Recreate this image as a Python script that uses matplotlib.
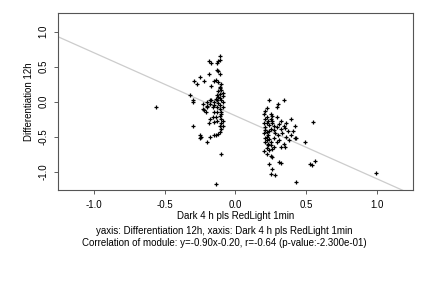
import numpy as np
import matplotlib
matplotlib.use('Agg')
import matplotlib.pyplot as plt

plt.rcParams['font.family'] = ['Liberation Sans', 'DejaVu Sans']

# cluster around x = -0.1 .. -0.3
x_left = [-0.56, -0.32, -0.30, -0.30, -0.29, -0.27, -0.25, -0.22, -0.19, -0.19,
          -0.17, -0.15, -0.17, -0.30, -0.25, -0.24, -0.25, -0.20, -0.18, -0.15,
          -0.19, -0.18, -0.16, -0.23, -0.21, -0.20, -0.18, -0.20, -0.14, -0.11,
          -0.11, -0.12, -0.13, -0.13, -0.12, -0.11, -0.14, -0.12, -0.11, -0.10,
          -0.11, -0.12, -0.13, -0.14, -0.15, -0.17, -0.18, -0.20, -0.22, -0.23,
          -0.13, -0.11, -0.10, -0.09, -0.12, -0.11, -0.13, -0.09, -0.11, -0.10,
          -0.13, -0.15, -0.16, -0.10, -0.10, -0.10, -0.10, -0.11, -0.12, -0.14,
          -0.15, -0.14, -0.15, -0.10, -0.10, -0.11, -0.09, -0.12, -0.09, -0.11,
          -0.09, -0.11, -0.13, -0.09]
y_left = [-0.07, 0.09, 0.02, -0.01, 0.29, 0.25, 0.35, 0.29, 0.39, 0.58,
          0.56, 0.30, 0.22, -0.34, -0.47, -0.50, -0.51, -0.58, -0.50, -0.48,
          -0.31, -0.24, -0.22, -0.10, -0.14, -0.01, 0.03, -0.08, -1.18, 0.66,
          0.59, 0.58, 0.56, 0.45, 0.44, 0.39, 0.31, 0.28, 0.21, 0.17,
          0.11, 0.07, 0.02, 0.04, -0.01, 0.03, -0.03, -0.06, -0.12, -0.03,
          0.09, 0.06, 0.03, -0.01, -0.02, -0.05, -0.07, -0.08, -0.11, -0.14,
          -0.14, -0.04, -0.07, -0.17, -0.24, -0.31, -0.39, -0.43, -0.46, -0.47,
          -0.29, -0.22, -0.15, -0.74, 0.25, 0.19, 0.13, 0.15, 0.08, -0.21,
          -0.27, -0.34, -0.28, -0.35]

# cluster around x = 0.2 .. 0.45, plus outliers on the right
x_right = [0.24, 0.34, 0.30, 0.29, 0.22, 0.21, 0.25, 0.26, 0.22, 0.25,
           0.26, 0.29, 0.32, 0.39, 0.36, 0.34, 0.32, 0.42, 0.41, 0.43,
           0.42, 0.39, 0.38, 0.34, 0.35, 0.32, 0.27, 0.26, 0.25, 0.23,
           0.22, 0.21, 0.22, 0.25, 0.27, 0.22, 0.21, 0.49, 0.55, 0.22,
           0.25, 0.26, 0.24, 0.26, 0.25, 0.28, 0.31, 0.32, 0.43, 0.53,
           0.54, 0.56, 0.99, 0.20, 0.21, 0.20, 0.23, 0.21, 0.20, 0.23,
           0.24, 0.22, 0.24, 0.21, 0.23, 0.25, 0.27, 0.28, 0.30, 0.29,
           0.31, 0.27, 0.29, 0.33, 0.36, 0.37, 0.35, 0.31, 0.24, 0.26,
           0.22, 0.24, 0.20]
y_right = [0.03, 0.03, -0.03, -0.07, -0.09, -0.13, -0.17, -0.20, -0.22, -0.24,
           -0.27, -0.22, -0.27, -0.24, -0.31, -0.34, -0.39, -0.34, -0.42, -0.51,
           -0.51, -0.47, -0.55, -0.60, -0.64, -0.65, -0.65, -0.67, -0.62, -0.60,
           -0.55, -0.51, -0.43, -0.39, -0.34, -0.31, -0.36, -0.58, -0.29, -0.75,
           -0.77, -0.79, -0.89, -0.96, -1.03, -1.05, -0.86, -0.88, -1.15, -0.89,
           -0.90, -0.85, -1.02, -0.18, -0.25, -0.30, -0.28, -0.40, -0.45, -0.47,
           -0.42, -0.50, -0.53, -0.58, -0.62, -0.57, -0.52, -0.45, -0.48, -0.58,
           -0.55, -0.40, -0.36, -0.45, -0.50, -0.42, -0.38, -0.32, -0.33, -0.30,
           -0.66, -0.69, -0.70]

slope, intercept = -0.90, -0.20
xticks = [-1.0, -0.5, 0.0, 0.5, 1.0]
yticks = [-1.0, -0.5, 0.0, 0.5, 1.0]

fig = plt.figure(figsize=(4.32, 2.88), dpi=100)
ax = fig.add_axes([0.134, 0.340, 0.822, 0.615])

xs = np.array(x_left + x_right)
ys = np.array(y_left + y_right)
ax.plot(xs, ys, '+', color='black', markersize=3.5, markeredgewidth=0.9)

xl = np.array([-1.3, 1.3])
ax.plot(xl, slope * xl + intercept, color='#cccccc', linewidth=0.9, zorder=1)

ax.set_xlim(-1.254, 1.254)
ax.set_ylim(-1.26, 1.267)
ax.set_xticks(xticks)
ax.set_yticks(yticks)
ax.set_xticklabels([f'{t:.1f}' for t in xticks], fontsize=7)
ax.set_yticklabels([f'{t:.1f}' for t in yticks], fontsize=7, rotation=90, va='center')
ax.tick_params(length=3, width=0.6, color='#444444', pad=4)
for s in ax.spines.values():
    s.set_color('#555555')
    s.set_linewidth(0.8)

ax.set_xlabel('Dark 4 h pls RedLight 1min', fontsize=7, labelpad=1)
ax.set_ylabel('Differentiation 12h', fontsize=7, labelpad=3)

fig.text(0.519, 1 - 231 / 288, 'yaxis: Differentiation 12h, xaxis: Dark 4 h pls RedLight 1min',
         ha='center', va='center', fontsize=7)
fig.text(0.519, 1 - 243 / 288,
         'Correlation of module: y=-0.90x-0.20, r=-0.64 (p-value:-2.300e-01)',
         ha='center', va='center', fontsize=7)

fig.savefig('out.png', dpi=100)
